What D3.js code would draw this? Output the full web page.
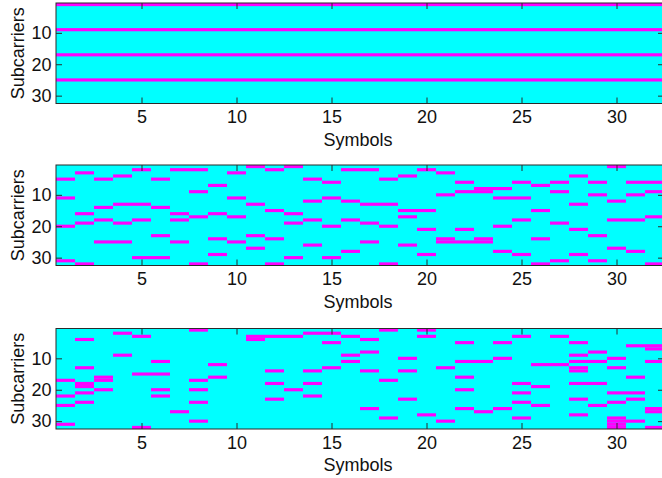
<!DOCTYPE html>
<html><head><meta charset="utf-8">
<script src="https://cdn.jsdelivr.net/npm/d3@7"></script>
<style>
body{margin:0;background:#fff;}
svg{display:block;}
text{font-family:"Liberation Sans",Arial,Helvetica,sans-serif;}
</style>
</head><body><svg id="c" width="662" height="478"></svg>
<script>
// ---- data ----
const symbols = [1,2,3,4,5,6,7,8,9,10,11,12,13,14,15,16,17,18,19,20,21,22,23,24,25,26,27,28,29,30,31,32];
const xTickValues = [5,10,15,20,25,30];
const yTickValues = [10,20,30];
const xLabel = "Symbols";
const yLabel = "Subcarriers";

// pilot subcarriers occupied in each symbol (index = symbol-1)
const pilotsRegular = [
  [1,9,17,25],[1,9,17,25],[1,9,17,25],[1,9,17,25],[1,9,17,25],[1,9,17,25],[1,9,17,25],[1,9,17,25],
  [1,9,17,25],[1,9,17,25],[1,9,17,25],[1,9,17,25],[1,9,17,25],[1,9,17,25],[1,9,17,25],[1,9,17,25],
  [1,9,17,25],[1,9,17,25],[1,9,17,25],[1,9,17,25],[1,9,17,25],[1,9,17,25],[1,9,17,25],[1,9,17,25],
  [1,9,17,25],[1,9,17,25],[1,9,17,25],[1,9,17,25],[1,9,17,25],[1,9,17,25],[1,9,17,25],[1,9,17,25]
];
const pilotsRandomFixed = [
  [5,11,20,31],[3,16,19,32],[5,14,18,25],[4,13,19,25],[2,13,18,30],[5,14,23,30],[2,16,18,25],[2,9,17,32],
  [7,16,24,29],[3,11,17,25],[1,13,23,27],[2,15,24,32],[1,16,19,30],[5,12,18,26],[6,11,20,30],[2,12,18,28],
  [2,13,19,25],[5,13,20,32],[4,15,17,26],[2,15,21,29],[3,10,24,25],[6,9,21,25],[8,9,24,25],[8,11,20,28],
  [6,11,18,29],[7,15,24,32],[6,9,19,31],[4,13,21,29],[6,10,23,31],[1,12,18,27],[6,10,18,28],[6,9,17,32]
];
const pilotsRandomVariable = [
  [17,22,25,31],[4,13,18,19,21,24],[16,17,20],[2,9],[3,15,32],[11,15,20,22],[27],[1,17,20,24,30],
  [12,16],[],[3,4],[3,14,18,23],[3,20],[2,14,18,22],[2,5,13],[3,9,11],
  [4,8,14,26],[1,17,29],[10,14,23],[1,3,28],[13,30],[5,11,16,20,26],[11,27],[5,10,26],
  [3,18,21,24,29],[12,19,25],[3,12],[5,9,11,13,14,18,23,28],[8,11,18,25],[10,13,21,24,29,30,31,32],[6,16,21,23,30],[6,7,11,26,27,32]
];
const panels = [pilotsRegular, pilotsRandomFixed, pilotsRandomVariable];

// ---- layout ----
const W = 662, H = 478;
const left = 56, right = 664;
const panelTops = [3, 165, 328.5];
const panelH = 100.5;
const bgColor = "#00ffff", pilotColor = "#ff00ff";
const axisColor = "#2b2b2b", textColor = "#111";

const svg = d3.select("#c");
const x = d3.scaleLinear().domain([0.5, 32.5]).range([left, right]);

panels.forEach((pilots, pi) => {
  const top = panelTops[pi];
  const y = d3.scaleLinear().domain([0.5, 32.5]).range([top, top + panelH]);
  const g = svg.append("g");

  g.append("rect").attr("x", x(0.5)).attr("y", y(0.5))
    .attr("width", x(32.5) - x(0.5)).attr("height", y(32.5) - y(0.5))
    .attr("fill", bgColor);

  const cells = [];
  symbols.forEach((s, i) => pilots[i].forEach(r => cells.push({s, r})));
  g.selectAll("rect.cell").data(cells).enter().append("rect")
    .attr("class", "cell")
    .attr("x", d => x(d.s - 0.5))
    .attr("width", d => x(d.s + 0.5) - x(d.s - 0.5))
    .attr("y", d => y(d.r - 0.5))
    .attr("height", d => y(d.r + 0.5) - y(d.r - 0.5))
    .attr("fill", pilotColor);

  const bottomY = y(32.5), topY = y(0.5);
  const fs = 18;

  const axB = g.append("g").attr("transform", `translate(0,${bottomY})`)
    .call(d3.axisBottom(x).tickValues(xTickValues).tickSizeInner(-6).tickSizeOuter(0).tickPadding(7));
  const axT = g.append("g").attr("transform", `translate(0,${topY})`)
    .call(d3.axisTop(x).tickValues(xTickValues).tickSizeInner(-6).tickSizeOuter(0).tickFormat(""));
  const axL = g.append("g").attr("transform", `translate(${left},0)`)
    .call(d3.axisLeft(y).tickValues(yTickValues).tickSizeInner(-6).tickSizeOuter(0).tickPadding(4.5));
  const axR = g.append("g").attr("transform", `translate(${right},0)`)
    .call(d3.axisRight(y).tickValues(yTickValues).tickSizeInner(-6).tickSizeOuter(0).tickFormat(""));
  [axB, axT, axL, axR].forEach(a => {
    a.select(".domain").remove();
    a.selectAll("line").attr("stroke", axisColor).attr("stroke-width", 1);
    a.selectAll("text").attr("fill", textColor).style("font-size", fs + "px")
      .style("font-family", '"Liberation Sans",Arial,Helvetica,sans-serif');
  });

  g.append("rect").attr("x", x(0.5)).attr("y", topY)
    .attr("width", x(32.5) - x(0.5)).attr("height", bottomY - topY)
    .attr("fill", "none").attr("stroke", axisColor).attr("stroke-width", 1);

  g.append("text").attr("x", (left + right) / 2 - 2).attr("y", bottomY + 42)
    .attr("text-anchor", "middle").attr("fill", textColor).style("font-size", fs + "px")
    .text(xLabel);
  g.append("text").attr("transform", `translate(24,${(topY + bottomY) / 2}) rotate(-90)`)
    .attr("text-anchor", "middle").attr("fill", textColor).style("font-size", fs + "px")
    .text(yLabel);
});
</script>
</body></html>
